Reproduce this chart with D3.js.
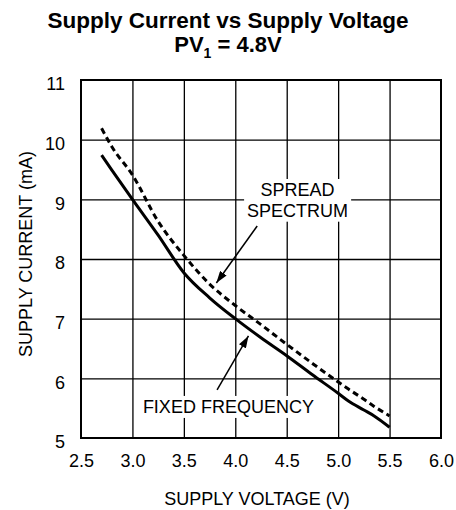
<!DOCTYPE html>
<html>
<head>
<meta charset="utf-8">
<script src="https://cdn.jsdelivr.net/npm/d3@7"></script>
<style>
  html, body { margin: 0; padding: 0; background: #fff; }
  svg { display: block; }
  text { font-family: "Liberation Sans", Arial, Helvetica, sans-serif; fill: #000; }
</style>
</head>
<body>
<svg id="chart" width="456" height="510"></svg>
<script>
// ---- data ----
const voltage = [2.7, 2.8, 3.0, 3.25, 3.5, 3.75, 4.0, 4.25, 4.5, 4.75, 5.0, 5.1, 5.25, 5.35, 5.5];
const fixedFrequency = [9.74, 9.49, 9.0, 8.4, 7.77, 7.35, 7.0, 6.68, 6.38, 6.06, 5.75, 5.62, 5.47, 5.37, 5.18];
const spreadSpectrum = [10.19, 9.88, 9.41, 8.63, 8.06, 7.58, 7.22, 6.9, 6.57, 6.25, 5.94, 5.82, 5.65, 5.53, 5.37];
const xTicks = [2.5, 3.0, 3.5, 4.0, 4.5, 5.0, 5.5, 6.0];
const yTicks = [5, 6, 7, 8, 9, 10, 11];
const titleLine1 = "Supply Current vs Supply Voltage";
const xLabel = "SUPPLY VOLTAGE (V)";
const yLabel = "SUPPLY CURRENT (mA)";
// annotations in data units: [label lines], label anchor, arrow start, arrow tip
const annotations = [
  { lines: ["SPREAD", "SPECTRUM"], at: [4.606, 9.056], from: [4.213, 8.553], to: [3.816, 7.598] },
  { lines: ["FIXED FREQUENCY"], at: [3.933, 5.42], from: [3.823, 5.805], to: [4.128, 6.71] }
];

// ---- layout ----
const svg = d3.select("#chart");
const pL = 81, pR = 441, pT = 80, pB = 438;
const x = d3.scaleLinear().domain([2.5, 6.0]).range([pL, pR]);
const y = d3.scaleLinear().domain([5, 11]).range([pB, pT]);

// title
const title = svg.append("g").attr("text-anchor", "middle").style("font-weight", "bold");
title.append("text").attr("x", 228).attr("y", 28).style("font-size", "22.5px").text(titleLine1);
const t2 = title.append("text").attr("x", 228).attr("y", 52).style("font-size", "22px");
t2.append("tspan").text("PV");
t2.append("tspan").attr("dy", 6).style("font-size", "14px").text("1");
t2.append("tspan").attr("dy", -6).text(" = 4.8V");

// grid
const grid = svg.append("g");
grid.append("g")
  .attr("transform", `translate(0,${pB})`)
  .call(d3.axisBottom(x).tickValues(xTicks.slice(1, -1)).tickSize(-(pB - pT)).tickFormat(""))
  .call(g => g.select(".domain").remove())
  .call(g => g.selectAll("line").attr("stroke", "#000").attr("stroke-width", 1.3));
grid.append("g")
  .attr("transform", `translate(${pL},0)`)
  .call(d3.axisLeft(y).tickValues(yTicks.slice(1, -1)).tickSize(-(pR - pL)).tickFormat(""))
  .call(g => g.select(".domain").remove())
  .call(g => g.selectAll("line").attr("stroke", "#000").attr("stroke-width", 1.3));

// axis tick labels
svg.append("g")
  .attr("transform", `translate(0,${pB})`)
  .call(d3.axisBottom(x).tickValues(xTicks).tickSize(0).tickPadding(16).tickFormat(d3.format(".1f")))
  .call(g => g.select(".domain").remove())
  .call(g => g.attr("font-family", null).attr("font-size", null))
  .call(g => g.selectAll("text").style("font-size", "18px"));
svg.append("g")
  .attr("transform", `translate(${pL},0)`)
  .call(d3.axisLeft(y).tickValues(yTicks).tickSize(0).tickPadding(16).tickFormat(d3.format("d")))
  .call(g => g.select(".domain").remove())
  .call(g => g.attr("font-family", null).attr("font-size", null))
  .call(g => g.selectAll("text").style("font-size", "18px").attr("dy", "0.55em"));

// axis titles
svg.append("text").attr("x", 257).attr("y", 505).attr("text-anchor", "middle")
  .style("font-size", "18px").text(xLabel);
svg.append("text").attr("transform", `translate(32,254) rotate(-90)`).attr("text-anchor", "middle")
  .style("font-size", "18px").text(yLabel);

// annotation labels with white backgrounds
annotations.forEach(a => {
  const g = svg.append("g");
  const txt = g.append("text").attr("text-anchor", "middle").style("font-size", "18px");
  a.lines.forEach((l, i) => {
    txt.append("tspan").attr("x", x(a.at[0])).attr("y", y(a.at[1]) + i * 20.7).text(l);
  });
  const bb = txt.node().getBBox();
  g.insert("rect", "text").attr("x", bb.x - 3).attr("y", bb.y - 1)
    .attr("width", bb.width + 6).attr("height", bb.height + 2).attr("fill", "#fff");
});

// border
svg.append("rect").attr("x", pL).attr("y", pT).attr("width", pR - pL).attr("height", pB - pT)
  .attr("fill", "none").attr("stroke", "#000").attr("stroke-width", 2);

// curves
const line = d3.line().x(d => x(d[0])).y(d => y(d[1])).curve(d3.curveMonotoneX);
svg.append("path").datum(voltage.map((v, i) => [v, fixedFrequency[i]]))
  .attr("d", line).attr("fill", "none").attr("stroke", "#000").attr("stroke-width", 3);
svg.append("path").datum(voltage.map((v, i) => [v, spreadSpectrum[i]]))
  .attr("d", line).attr("fill", "none").attr("stroke", "#000").attr("stroke-width", 3)
  .attr("stroke-dasharray", "6,4");

// arrows
svg.append("defs").append("marker").attr("id", "ah")
  .attr("viewBox", "0 0 12 8").attr("refX", 12).attr("refY", 4)
  .attr("markerWidth", 12).attr("markerHeight", 8).attr("markerUnits", "userSpaceOnUse")
  .attr("orient", "auto")
  .append("path").attr("d", "M0,0 L12,4 L0,8 Z").attr("fill", "#000");
annotations.forEach(a => {
  svg.append("line")
    .attr("x1", x(a.from[0])).attr("y1", y(a.from[1]))
    .attr("x2", x(a.to[0])).attr("y2", y(a.to[1]))
    .attr("stroke", "#000").attr("stroke-width", 1.5).attr("marker-end", "url(#ah)");
});
</script>
</body>
</html>
